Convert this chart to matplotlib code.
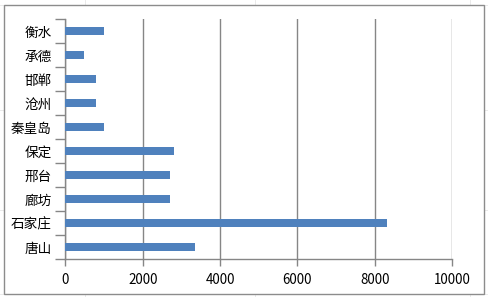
import matplotlib
matplotlib.use("Agg")
import matplotlib.pyplot as plt
from matplotlib.patches import Rectangle
from matplotlib.lines import Line2D

plt.rcParams['font.family'] = ['Noto Sans CJK SC', 'DejaVu Sans']

cities = ["唐山", "石家庄", "廊坊", "邢台", "保定", "秦皇岛", "沧州", "邯郸", "承德", "衡水"]
values = [3350, 8320, 2700, 2700, 2810, 1000, 790, 790, 480, 1000]
xticks = [0, 2000, 4000, 6000, 8000, 10000]

W, H = 489, 297
fig = plt.figure(figsize=(W / 100, H / 100), dpi=100)
fig.patch.set_facecolor("white")

# faint spreadsheet cell lines behind the chart
for yy in [5, 110, 210, 294]:
    fig.add_artist(Line2D([0, 1], [1 - yy / H, 1 - yy / H], color="#e6e6e6", lw=0.6, zorder=0))
for xx in [85, 255, 470]:
    fig.add_artist(Line2D([xx / W, xx / W], [0, 1], color="#e6e6e6", lw=0.6, zorder=0))

# chart border
fig.add_artist(Rectangle((4 / W, 1 - 294 / H), 480 / W, 289 / H, transform=fig.transFigure,
                         facecolor="white", edgecolor="#8c8c8c", lw=1.0, zorder=1))

ax = fig.add_axes([65.5 / W, 1 - 259 / H, (452 - 65.5) / W, (259 - 19) / H], zorder=2)
ax.set_facecolor("none")

y = range(len(cities))
ax.barh(y, values, height=0.34, color="#4F81BD", zorder=3)

ax.set_xlim(0, 10000)
ax.set_ylim(-0.5, len(cities) - 0.5)
ax.set_xticks(xticks)
ax.set_xticklabels([str(v) for v in xticks], fontsize=9.6)
ax.set_yticks(list(y))
ax.set_yticklabels(cities, fontsize=9.8)

ax.set_yticks([i - 0.5 for i in range(len(cities) + 1)], minor=True)
ax.tick_params(axis="y", which="major", length=0, pad=10)
ax.tick_params(axis="y", which="minor", length=7, width=1.0, color="#868686", direction="out")
ax.tick_params(axis="x", which="major", length=5, width=1.0, color="#868686", direction="out", pad=5)

ax.xaxis.grid(True, color="#868686", lw=1.0, zorder=1)
ax.set_axisbelow(True)
for s in ["top", "right"]:
    ax.spines[s].set_visible(False)
for s in ["left", "bottom"]:
    ax.spines[s].set_color("#868686")
    ax.spines[s].set_linewidth(1.0)

fig.savefig("out.png", dpi=100)
